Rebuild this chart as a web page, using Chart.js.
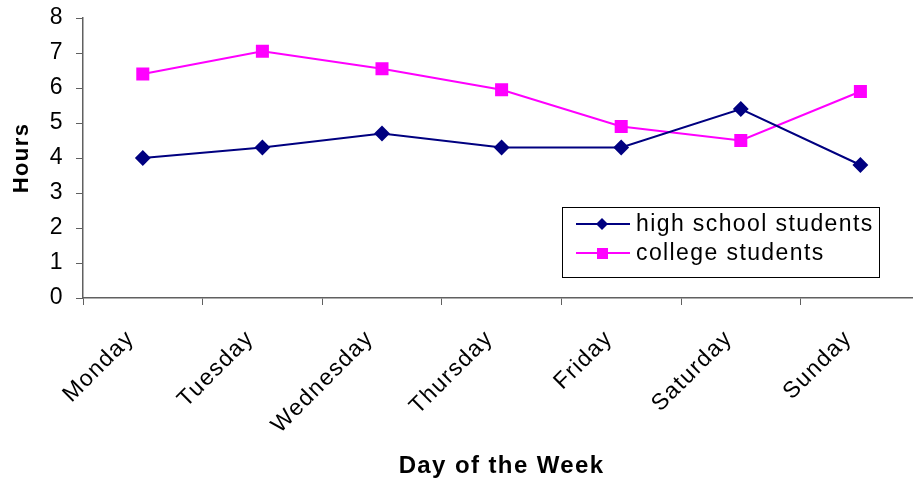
<!DOCTYPE html>
<html>
<head>
<meta charset="utf-8">
<script src="https://cdn.jsdelivr.net/npm/chart.js@4/dist/chart.umd.min.js"></script>
<style>
  html, body { margin: 0; padding: 0; background: #fff; overflow: hidden; }
  #wrap { width: 930px; height: 494px; }
</style>
</head>
<body>
<div id="wrap"><canvas id="chart"></canvas></div>
<script>
/* ===== data ===== */
const days = ['Monday', 'Tuesday', 'Wednesday', 'Thursday', 'Friday', 'Saturday', 'Sunday'];
const highSchool = [4.0, 4.3, 4.7, 4.3, 4.3, 5.4, 3.8];
const college = [6.4, 7.05, 6.55, 5.95, 4.9, 4.5, 5.9];
const yTicks = [0, 1, 2, 3, 4, 5, 6, 7, 8];

const FONT = '"Liberation Sans", Arial, sans-serif';
const AXIS = '#606060';
const SPACING = '1.4px'; // reference text is a bit wider than plain Arial

// canvas resets its state on resize, so set letter spacing before layout and draw
const wideText = {
  id: 'wideText',
  beforeLayout(chart) { chart.ctx.letterSpacing = SPACING; },
  beforeDraw(chart) { chart.ctx.letterSpacing = SPACING; },
};

// legend box inside the plot (Excel style)
const boxLegend = {
  id: 'boxLegend',
  afterDraw(chart) {
    const ctx = chart.ctx;
    const x = 562, y = 207, w = 317, h = 70;
    ctx.save();
    ctx.fillStyle = '#fff';
    ctx.fillRect(x, y, w, h);
    ctx.strokeStyle = '#000';
    ctx.lineWidth = 1;
    ctx.strokeRect(x + 0.5, y + 0.5, w, h);
    chart.data.datasets.forEach((ds, i) => {
      const cy = y + 17 + i * 29;
      ctx.strokeStyle = ds.borderColor;
      ctx.lineWidth = 2;
      ctx.beginPath();
      ctx.moveTo(576, cy);
      ctx.lineTo(630, cy);
      ctx.stroke();
      ctx.fillStyle = ds.backgroundColor;
      ctx.beginPath();
      if (ds.pointStyle === 'rectRot') {
        ctx.moveTo(602, cy - 6); ctx.lineTo(608, cy); ctx.lineTo(602, cy + 6); ctx.lineTo(596, cy);
      } else {
        ctx.rect(597, cy - 5, 11, 11);
      }
      ctx.fill();
      ctx.fillStyle = '#000';
      ctx.font = '23px ' + FONT;
      ctx.letterSpacing = SPACING;
      ctx.textBaseline = 'middle';
      ctx.fillText(ds.label, 636, cy + 1);
    });
    ctx.restore();
  }
};

new Chart(document.getElementById('chart'), {
  type: 'line',
  data: {
    labels: days,
    datasets: [
      {
        label: 'high school students',
        data: highSchool,
        borderColor: '#000080',
        backgroundColor: '#000080',
        borderWidth: 2,
        pointStyle: 'rectRot',
        pointRadius: 6.5,
        tension: 0,
      },
      {
        label: 'college students',
        data: college,
        borderColor: '#ff00ff',
        backgroundColor: '#ff00ff',
        borderWidth: 2,
        pointStyle: 'rect',
        pointRadius: 7.8,
        tension: 0,
      }
    ]
  },
  options: {
    responsive: true,
    maintainAspectRatio: false,
    animation: false,
    layout: { padding: { left: 0, right: 1, top: 18, bottom: 0 } },
    plugins: {
      legend: { display: false },
      tooltip: { enabled: false },
    },
    scales: {
      x: {
        offset: true,
        grid: { offset: true, drawOnChartArea: false, color: AXIS, tickLength: 7 },
        border: { color: AXIS, width: 1.5 },
        ticks: {
          color: '#000', font: { family: FONT, size: 23 },
          maxRotation: 45, minRotation: 45, padding: 20, labelOffset: -12,
        },
        title: {
          display: true, text: 'Day of the Week', color: '#000',
          font: { family: FONT, size: 24, weight: 'bold' },
          padding: { top: 0, bottom: 13 },
        },
        afterFit: s => { s.height = 494 - 298; s.paddingLeft = 0; s.paddingRight = 0; },
      },
      y: {
        min: 0, max: 8,
        afterBuildTicks: s => { s.ticks = yTicks.map(v => ({ value: v })); },
        grid: { drawOnChartArea: false, color: AXIS, tickLength: 7 },
        border: { color: AXIS, width: 1.5 },
        ticks: { color: '#000', font: { family: FONT, size: 23 }, padding: 12 },
        title: {
          display: true, text: 'Hours', color: '#000',
          font: { family: FONT, size: 22, weight: 'bold' },
          padding: { top: 9, bottom: 0 },
        },
        afterFit: s => { s.width = 83; s.paddingTop = 0; s.paddingBottom = 0; },
      }
    }
  },
  plugins: [wideText, boxLegend]
});
</script>
</body>
</html>
